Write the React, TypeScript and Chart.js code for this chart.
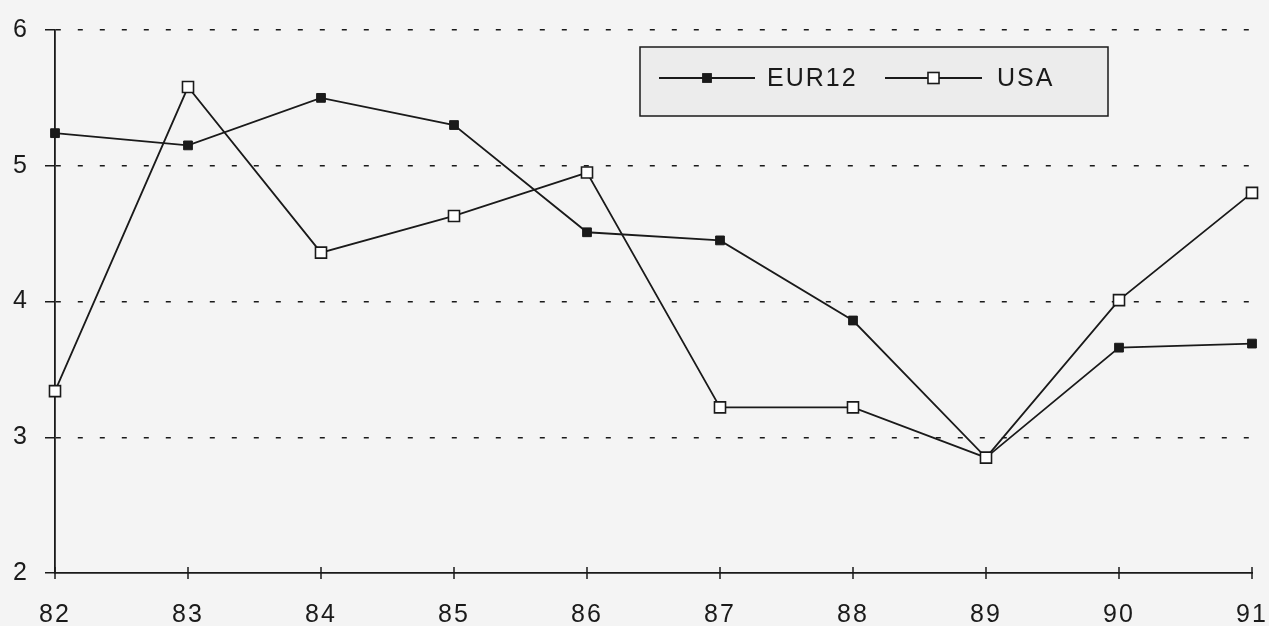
import React, { useEffect, useRef } from "react";
import { Chart, registerables } from "chart.js";

Chart.register(...registerables);

const categories = ["82", "83", "84", "85", "86", "87", "88", "89", "90", "91"];
const eur12 = [5.24, 5.15, 5.5, 5.3, 4.51, 4.45, 3.86, 2.85, 3.66, 3.69];
const usa = [3.34, 5.58, 4.36, 4.63, 4.95, 3.22, 3.22, 2.85, 4.01, 4.8];
const yMin = 2;
const yMax = 6;

const INK = "#1a1a1a";
const FONT = { family: "'Liberation Sans', Arial, Helvetica, sans-serif", size: 25 };

const bgPlugin = {
  id: "bgPlugin",
  beforeDraw(chart: any) {
    const ctx = chart.ctx;
    ctx.save();
    ctx.fillStyle = "#f4f4f4";
    ctx.fillRect(0, 0, chart.width, chart.height);
    ctx.restore();
    ctx.letterSpacing = "2px";
  },
};

const xTickPlugin = {
  id: "xTickPlugin",
  afterDraw(chart: any) {
    const ctx = chart.ctx;
    const xs = chart.scales.x;
    const yb = chart.chartArea.bottom;
    ctx.save();
    ctx.strokeStyle = INK;
    ctx.lineWidth = 1.5;
    ctx.beginPath();
    for (let i = 0; i < xs.ticks.length; i++) {
      const x = xs.getPixelForTick(i);
      ctx.moveTo(x, yb - 6);
      ctx.lineTo(x, yb + 6);
    }
    ctx.stroke();
    ctx.restore();
  },
};

const legendPlugin = {
  id: "boxLegend",
  afterDraw(chart: any) {
    const ctx = chart.ctx;
    ctx.save();
    ctx.letterSpacing = "2px";
    ctx.fillStyle = "#ececec";
    ctx.strokeStyle = INK;
    ctx.lineWidth = 1.5;
    ctx.fillRect(640, 47, 468, 69);
    ctx.strokeRect(640, 47, 468, 69);
    const items = [
      { ds: 0, x1: 659, x2: 755, tx: 767 },
      { ds: 1, x1: 885, x2: 982, tx: 997 },
    ];
    const yc = 78;
    for (const it of items) {
      const ds = chart.data.datasets[it.ds];
      ctx.strokeStyle = ds.borderColor;
      ctx.lineWidth = ds.borderWidth;
      ctx.beginPath();
      ctx.moveTo(it.x1, yc);
      ctx.lineTo(it.x2, yc);
      ctx.stroke();
      const mx = (it.x1 + it.x2) / 2;
      const s = ds.pointRadius * Math.SQRT1_2;
      ctx.fillStyle = ds.pointBackgroundColor;
      ctx.fillRect(mx - s, yc - s, 2 * s, 2 * s);
      ctx.strokeStyle = ds.pointBorderColor;
      ctx.lineWidth = ds.pointBorderWidth;
      ctx.strokeRect(mx - s, yc - s, 2 * s, 2 * s);
      ctx.fillStyle = INK;
      ctx.font = `${FONT.size}px ${FONT.family}`;
      ctx.textBaseline = "middle";
      ctx.textAlign = "left";
      ctx.fillText(ds.label, it.tx, yc + 1);
    }
    ctx.restore();
  },
};

export default function App() {
  const ref = useRef<HTMLCanvasElement | null>(null);
  useEffect(() => {
    if (!ref.current) return;
    const chart = new Chart(ref.current, {
      type: "line",
      data: {
        labels: categories,
        datasets: [
          {
            label: "EUR12",
            data: eur12,
            borderColor: INK,
            borderWidth: 1.8,
            pointStyle: "rect",
            pointRadius: 6.2,
            pointBackgroundColor: INK,
            pointBorderColor: INK,
            pointBorderWidth: 1,
            order: 1,
            tension: 0,
          },
          {
            label: "USA",
            data: usa,
            borderColor: INK,
            borderWidth: 1.8,
            pointStyle: "rect",
            pointRadius: 7.8,
            pointBackgroundColor: "#ffffff",
            pointBorderColor: INK,
            pointBorderWidth: 1.6,
            order: 0,
            tension: 0,
          },
        ],
      },
      options: {
        responsive: false,
        animation: false,
        devicePixelRatio: 1,
        layout: { padding: { top: 30, right: 17, left: 0, bottom: 0 } },
        plugins: { legend: { display: false }, tooltip: { enabled: false } },
        scales: {
          x: {
            type: "category",
            offset: false,
            grid: { display: true, drawOnChartArea: false, drawTicks: false },
            border: { color: INK, width: 1.8 },
            ticks: { color: INK, font: FONT, padding: 27, maxRotation: 0, autoSkip: false },
            afterFit: (s: any) => {
              s.height = 53;
              s.paddingLeft = 0;
              s.paddingRight = 0;
            },
          },
          y: {
            min: yMin,
            max: yMax,
            border: { color: INK, width: 1.8, dash: [5, 17] },
            grid: {
              color: (c: any) => (c.tick && c.tick.value === yMin ? "rgba(0,0,0,0)" : INK),
              lineWidth: 1.5,
              tickLength: 10,
              tickBorderDash: [],
              tickColor: INK,
              tickWidth: 1.5,
            },
            ticks: { stepSize: 1, color: INK, font: FONT, padding: 16 },
            afterFit: (s: any) => {
              s.width = 55;
              s.paddingTop = 0;
              s.paddingBottom = 0;
            },
          },
        },
      },
      plugins: [bgPlugin, xTickPlugin, legendPlugin],
    } as any);
    return () => chart.destroy();
  }, []);
  return (
    <div style={{ position: "fixed", left: 0, top: 0, width: 1269, height: 626 }}>
      <canvas ref={ref} width={1269} height={626} />
    </div>
  );
}
